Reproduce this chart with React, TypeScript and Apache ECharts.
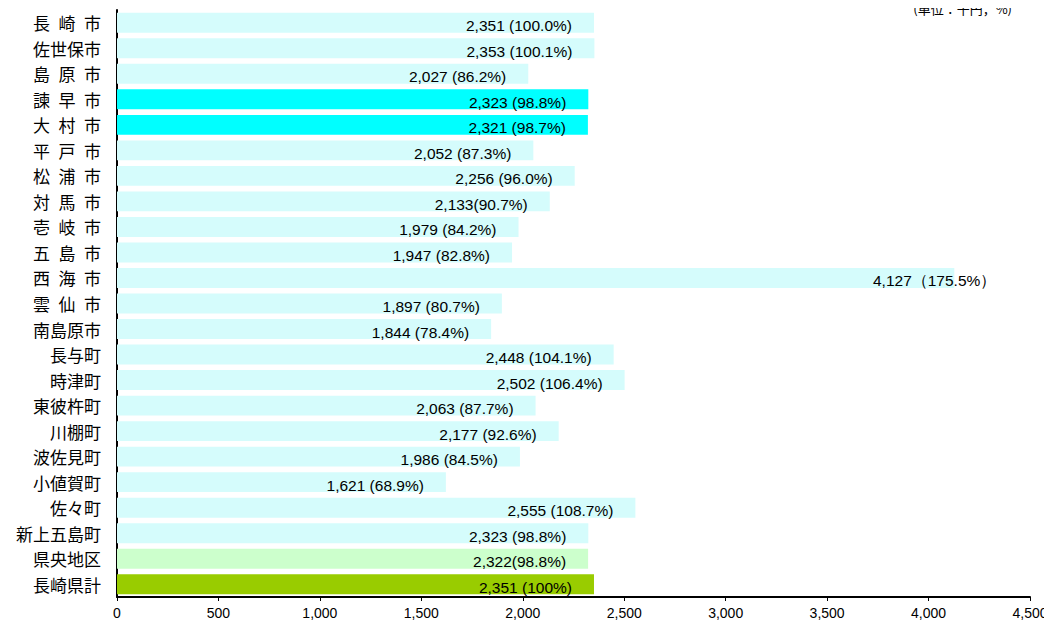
import React, { useEffect, useRef } from "react";
import * as echarts from "echarts";

const S = "\u2002";
const categories = [
  `長${S}崎${S}市`, "佐世保市", `島${S}原${S}市`, `諫${S}早${S}市`, `大${S}村${S}市`, `平${S}戸${S}市`,
  `松${S}浦${S}市`, `対${S}馬${S}市`, `壱${S}岐${S}市`, `五${S}島${S}市`, `西${S}海${S}市`, `雲${S}仙${S}市`,
  "南島原市", "長与町", "時津町", "東彼杵町", "川棚町", "波佐見町", "小値賀町", "佐々町",
  "新上五島町", "県央地区", "長崎県計",
];
const values = [
  2351, 2353, 2027, 2323, 2321, 2052, 2256, 2133, 1979, 1947, 4127, 1897,
  1844, 2448, 2502, 2063, 2177, 1986, 1621, 2555, 2323, 2322, 2351,
];
const labels = [
  "2,351 (100.0%)", "2,353 (100.1%)", "2,027 (86.2%)", "2,323 (98.8%)", "2,321 (98.7%)",
  "2,052 (87.3%)", "2,256 (96.0%)", "2,133(90.7%)", "1,979 (84.2%)", "1,947 (82.8%)",
  "4,127（175.5%）", "1,897 (80.7%)", "1,844 (78.4%)", "2,448 (104.1%)", "2,502 (106.4%)",
  "2,063 (87.7%)", "2,177 (92.6%)", "1,986 (84.5%)", "1,621 (68.9%)", "2,555 (108.7%)",
  "2,323 (98.8%)", "2,322(98.8%)", "2,351 (100%)",
];
const xTicks = [0, 500, 1000, 1500, 2000, 2500, 3000, 3500, 4000, 4500];
const unitLabel = "(単位：千円，%)";

const colorFor = (i: number) => {
  if (i === 3 || i === 4) return "#00FFFF";
  if (i === 21) return "#CCFFCC";
  if (i === 22) return "#99CC00";
  return "#D5FCFC";
};

export default function App() {
  const ref = useRef<HTMLDivElement>(null);
  useEffect(() => {
    if (!ref.current) return;
    const chart = echarts.init(ref.current, undefined, { renderer: "svg" });
    chart.setOption({
      animation: false,
      grid: { left: 117, right: 22, top: 10, bottom: 31 },
      graphic: [
        {
          type: "text",
          x: 1012,
          y: 2,
          style: {
            text: unitLabel,
            font: '13px "Noto Sans CJK JP"',
            fill: "#000",
            align: "right",
            verticalAlign: "top",
          },
        },
      ],
      xAxis: {
        type: "value",
        min: 0,
        max: 4500,
        interval: 500,
        axisLine: { show: true, lineStyle: { color: "#000", width: 2 } },
        axisTick: { show: true, length: 4, lineStyle: { color: "#000" } },
        splitLine: { show: false },
        axisLabel: {
          color: "#000",
          fontFamily: "Liberation Sans",
          fontSize: 14,
          margin: 9,
          formatter: (v: number) => (xTicks.includes(v) ? v.toLocaleString("en-US") : ""),
        },
      },
      yAxis: {
        type: "category",
        inverse: true,
        data: categories,
        axisLine: { show: true, lineStyle: { color: "#000", width: 2 } },
        axisTick: { show: false },
        axisLabel: {
          color: "#000",
          fontFamily: "Noto Sans CJK JP",
          fontSize: 17,
          margin: 16,
        },
      },
      series: [
        {
          type: "bar",
          barCategoryGap: "22%",
          data: values.map((v, i) => ({
            value: v,
            itemStyle: { color: colorFor(i) },
            label: {
              show: true,
              position: "insideRight",
              distance: 0,
              offset: i === 10 ? [42, 3] : [-22, 3],
              formatter: () => labels[i],
              color: "#000",
              fontFamily: "Liberation Sans",
              fontSize: 15.5,
            },
          })),
        },
      ],
    });
    return () => chart.dispose();
  }, []);
  return <div ref={ref} style={{ width: 1052, height: 628, margin: -8 }} />;
}
